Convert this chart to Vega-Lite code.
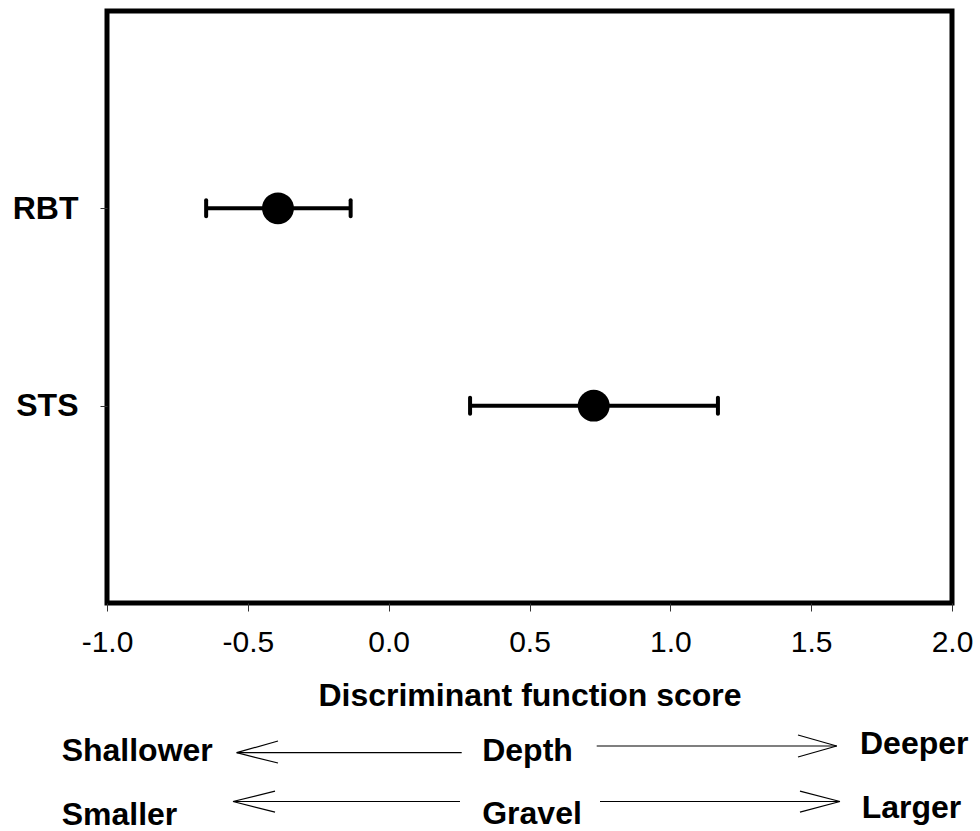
{
  "$schema": "https://vega.github.io/schema/vega-lite/v6.json",
  "background": "white",
  "padding": {"left": 4, "top": 8, "right": 20, "bottom": 5},
  "spacing": 13,
  "config": {
    "font": "Liberation Sans",
    "view": {"stroke": null}
  },
  "vconcat": [
    {
      "width": 845,
      "height": 592,
      "view": {"stroke": "black", "strokeWidth": 5},
      "data": {
        "values": [
          {"species": "RBT", "score": -0.393, "lo": -0.648, "hi": -0.135},
          {"species": "STS", "score": 0.728, "lo": 0.289, "hi": 1.169}
        ]
      },
      "encoding": {
        "y": {
          "field": "species",
          "type": "nominal",
          "sort": ["RBT", "STS"],
          "scale": {"type": "point", "padding": 1},
          "axis": {
            "title": null,
            "domain": false,
            "grid": false,
            "tickSize": 7,
            "tickWidth": 1,
            "tickColor": "#333",
            "labelFont": "Liberation Sans",
            "labelFontSize": 32,
            "labelFontWeight": "bold",
            "labelColor": "black",
            "labelPadding": 22,
            "minExtent": 100,
            "maxExtent": 100
          }
        }
      },
      "layer": [
        {
          "mark": {"type": "rule", "strokeWidth": 4, "color": "black"},
          "encoding": {
            "x": {
              "field": "lo",
              "type": "quantitative",
              "scale": {"domain": [-1, 2], "nice": false, "zero": false},
              "axis": {
                "title": "Discriminant function score",
                "values": [-1, -0.5, 0, 0.5, 1, 1.5, 2],
                "labelExpr": "replace(format(datum.value, '.1f'), '\u2212', '-')",
                "domain": false,
                "grid": false,
                "tickSize": 8,
                "tickWidth": 1,
                "tickColor": "#333",
                "labelFont": "Liberation Sans",
                "labelFontSize": 30,
                "labelColor": "black",
                "labelPadding": 16,
                "labelFlush": false,
                "labelOverlap": false,
                "titleFont": "Liberation Sans",
                "titleFontSize": 32,
                "titleFontWeight": "bold",
                "titleColor": "black",
                "titlePadding": 23
              }
            },
            "x2": {"field": "hi"}
          }
        },
        {
          "mark": {"type": "tick", "orient": "vertical", "size": 20, "thickness": 4, "color": "black", "opacity": 1, "cornerRadius": 2},
          "encoding": {"x": {"field": "lo", "type": "quantitative"}}
        },
        {
          "mark": {"type": "tick", "orient": "vertical", "size": 20, "thickness": 4, "color": "black", "opacity": 1, "cornerRadius": 2},
          "encoding": {"x": {"field": "hi", "type": "quantitative"}}
        },
        {
          "mark": {"type": "point", "shape": "circle", "filled": true, "size": 1018, "color": "black", "opacity": 1},
          "encoding": {"x": {"field": "score", "type": "quantitative"}}
        }
      ]
    },
    {
      "width": 845,
      "height": 100,
      "view": {"stroke": null},
      "layer": [
        {
          "data": {
            "values": [
              {"x": -0.5395, "x2": 0.2593, "level": 74.3, "level2": 74.3},
              {"x": -0.5395, "x2": -0.3929, "level": 74.3, "level2": 86},
              {"x": -0.5395, "x2": -0.3929, "level": 74.3, "level2": 64},
              {"x": 0.7386, "x2": 1.5906, "level": 81, "level2": 81},
              {"x": 1.5906, "x2": 1.4532, "level": 81, "level2": 92},
              {"x": 1.5906, "x2": 1.4532, "level": 81, "level2": 70},
              {"x": -0.5527, "x2": 0.2532, "level": 25.5, "level2": 25.5},
              {"x": -0.5527, "x2": -0.4035, "level": 25.5, "level2": 35.8},
              {"x": -0.5527, "x2": -0.4035, "level": 25.5, "level2": 14.8},
              {"x": 0.7503, "x2": 1.6023, "level": 25.5, "level2": 25.5},
              {"x": 1.6023, "x2": 1.4603, "level": 25.5, "level2": 35.8},
              {"x": 1.6023, "x2": 1.4603, "level": 25.5, "level2": 14.8}
            ]
          },
          "mark": {"type": "rule", "strokeWidth": 1.2, "color": "black"},
          "encoding": {
            "x": {"field": "x", "type": "quantitative", "scale": {"domain": [-1, 2], "nice": false, "zero": false}, "axis": null},
            "x2": {"field": "x2"},
            "y": {"field": "level", "type": "quantitative", "scale": {"domain": [0, 100], "nice": false, "zero": false}, "axis": null},
            "y2": {"field": "level2"}
          }
        },
        {
          "data": {
            "values": [
              {"label": "Shallower", "side": "low", "x": -1.161, "level": 66},
              {"label": "Depth", "side": "mid", "x": 0.493, "level": 66},
              {"label": "Deeper", "side": "high", "x": 1.6734, "level": 73},
              {"label": "Smaller", "side": "low", "x": -1.161, "level": 2.5},
              {"label": "Gravel", "side": "mid", "x": 0.509, "level": 3.5},
              {"label": "Larger", "side": "high", "x": 1.6794, "level": 9.5}
            ]
          },
          "transform": [{"filter": "datum.side !== 'mid'"}],
          "mark": {"type": "text", "align": "left", "baseline": "alphabetic", "font": "Liberation Sans", "fontSize": 32, "fontWeight": "bold", "color": "black"},
          "encoding": {
            "x": {"field": "x", "type": "quantitative"},
            "y": {"field": "level", "type": "quantitative"},
            "text": {"field": "label"}
          }
        },
        {
          "data": {
            "values": [
              {"label": "Shallower", "side": "low", "x": -1.161, "level": 66},
              {"label": "Depth", "side": "mid", "x": 0.493, "level": 66},
              {"label": "Deeper", "side": "high", "x": 1.6734, "level": 73},
              {"label": "Smaller", "side": "low", "x": -1.161, "level": 2.5},
              {"label": "Gravel", "side": "mid", "x": 0.509, "level": 3.5},
              {"label": "Larger", "side": "high", "x": 1.6794, "level": 9.5}
            ]
          },
          "transform": [{"filter": "datum.side === 'mid'"}],
          "mark": {"type": "text", "align": "center", "baseline": "alphabetic", "font": "Liberation Sans", "fontSize": 32, "fontWeight": "bold", "color": "black"},
          "encoding": {
            "x": {"field": "x", "type": "quantitative"},
            "y": {"field": "level", "type": "quantitative"},
            "text": {"field": "label"}
          }
        }
      ]
    }
  ]
}
